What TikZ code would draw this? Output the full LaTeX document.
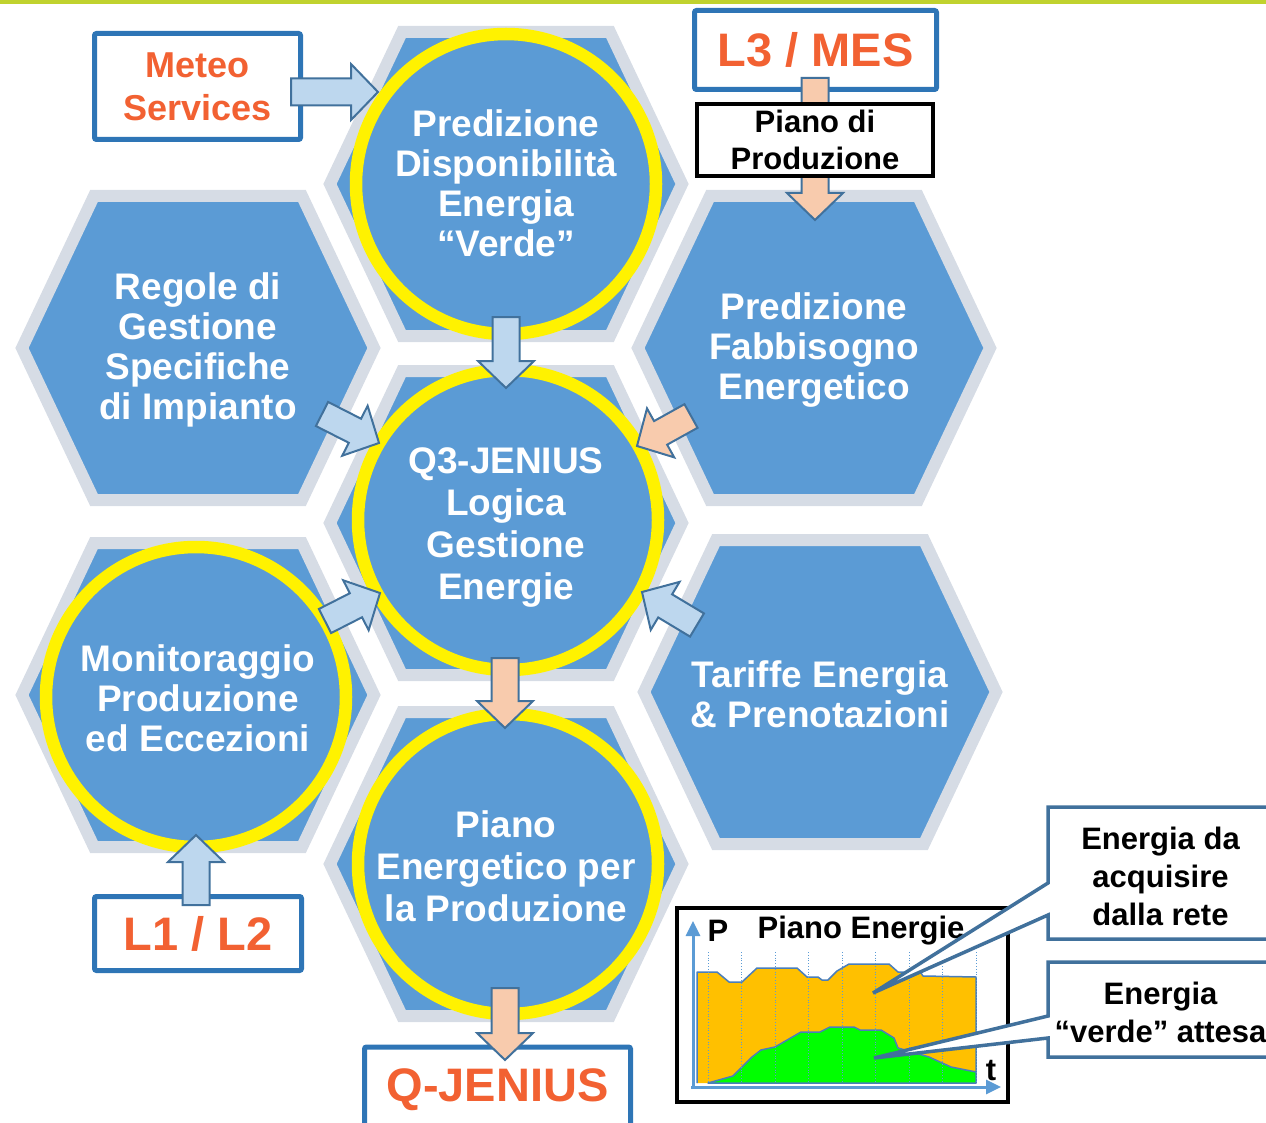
\documentclass[tikz,border=0pt]{standalone}
\usepackage{fontspec}
\setmainfont{Liberation Sans}
\usetikzlibrary{calc,arrows.meta}

\definecolor{hexblue}{HTML}{5B9BD5}
\definecolor{hexgray}{HTML}{D6DCE5}
\definecolor{arrowblue}{HTML}{BDD7EE}
\definecolor{arrowpeach}{HTML}{F8CBAD}
\definecolor{arrowline}{HTML}{41719C}
\definecolor{boxblue}{HTML}{2E75B6}
\definecolor{labelred}{HTML}{F26132}
\definecolor{topgreen}{HTML}{C0D22E}
\definecolor{chartorange}{HTML}{FFC000}
\definecolor{chartgreen}{HTML}{00FF00}
\definecolor{chartline}{HTML}{4A7EBB}

\tikzset{
  hexcell/.style={fill=hexblue, draw=hexgray, line width=12pt},
  ring/.style={draw=yellow, line width=12.5pt},
  hextext/.style={text=white, align=center, inner sep=0pt, font=\fontsize{37}{40}\selectfont\bfseries},
  hextextwide/.style={hextext, font=\fontsize{37}{42}\selectfont\bfseries},
  levelbox/.style={draw=boxblue, line width=5pt, fill=white, rounded corners=2pt, inner sep=0pt,
    text=labelred, align=center, font=\fontsize{47}{52}\selectfont\bfseries},
  planbox/.style={draw=black, line width=4pt, fill=white, inner sep=0pt,
    align=center, font=\fontsize{31}{37}\selectfont\bfseries},
  blockblue/.style={fill=arrowblue, draw=arrowline, line width=2pt},
  blockpeach/.style={fill=arrowpeach, draw=arrowline, line width=2pt},
  callout/.style={fill=white, draw=arrowline, line width=3.5pt},
  callouttext/.style={align=center, inner sep=0pt, font=\fontsize{31}{38}\selectfont\bfseries},
  charttext/.style={inner sep=0pt, font=\fontsize{31}{36}\selectfont\bfseries},
  gridline/.style={draw=hexblue, dotted, line width=0.8pt},
  chartaxis/.style={draw=hexblue, line width=3pt, -{Triangle[length=15pt,width=14pt]}},
  chartarea/.style={draw=chartline, line width=1.5pt, line join=round},
}

% block arrow: style, tail, tip
\newcommand\blockarrow[3]{%
  \coordinate (ah) at ($(#3)!27pt!(#2)$);
  \draw[#1] ($(#2)!13.5pt!90:(#3)$) -- ($(ah)!13.5pt!90:(#3)$) -- ($(ah)!28pt!90:(#3)$) -- (#3)
    -- ($(ah)!28pt!-90:(#3)$) -- ($(ah)!13.5pt!-90:(#3)$) -- ($(#2)!13.5pt!-90:(#3)$) -- cycle;}

\begin{document}
\begin{tikzpicture}[x=1pt,y=-1pt]
  \useasboundingbox (0,0) rectangle (1266,1123);
  \clip (0,0) rectangle (1266,1123);
  \fill[topgreen] (0,0) rectangle (1266,4);

  % honeycomb
  \foreach \cx/\cy in {506/184, 506/523, 506/864, 198/348, 198/695, 814/348, 820/692}
    \draw[hexcell] (\cx-176,\cy) -- (\cx-104,\cy-152) -- (\cx+104,\cy-152)
      -- (\cx+176,\cy) -- (\cx+104,\cy+152) -- (\cx-104,\cy+152) -- cycle;

  \foreach \cx/\cy in {506/184, 508/520, 508/864, 196/697}
    \draw[ring] (\cx,\cy) circle[radius=150pt];

  \node[hextext] (green) at (506,183) {Predizione\\Disponibilità\\Energia\\“Verde”};
  \node[hextext] (rules) at (198,350) {Regole di\\Gestione\\Specifiche\\di Impianto};
  \node[hextext] (demand) at (814,350) {Predizione\\Fabbisogno\\Energetico};
  \node[hextextwide] (logic) at (506,527) {Q3-JENIUS\\Logica\\Gestione\\Energie};
  \node[hextext] (monitor) at (198,698) {Monitoraggio\\Produzione\\ed Eccezioni};
  \node[hextext] (tariffs) at (820,694) {Tariffe Energia\\\& Prenotazioni};
  \node[hextextwide] (plan) at (506,866) {Piano\\Energetico per\\la Produzione};

  % outside systems
  \node[levelbox, minimum width=206pt, minimum height=106pt, font=\fontsize{36}{43}\selectfont\bfseries]
    (meteo) at (197.5,86.5) {Meteo\\Services};
  \node[levelbox, minimum width=242pt, minimum height=79pt] (mes) at (815.5,50) {L3 / MES};
  \node[levelbox, minimum width=207pt, minimum height=74pt] (field) at (198,933.5) {L1 / L2};
  \node[levelbox, minimum width=266pt, minimum height=86pt] (qjenius) at (497.5,1090) {Q-JENIUS};

  \coordinate (mesA) at (815,78);   \coordinate (mesB) at (815,220);
  \blockarrow{blockpeach}{mesA}{mesB}
  \node[planbox, minimum width=236pt, minimum height=72pt] (prod) at (815,140) {Piano di\\Produzione};

  % arrows
  \coordinate (meteoA) at (291,92);   \coordinate (meteoB) at (378,92);
  \coordinate (greenA) at (506,317);  \coordinate (greenB) at (506,388);
  \coordinate (rulesA) at (322,414);  \coordinate (rulesB) at (379,443);
  \coordinate (demandA) at (691,416); \coordinate (demandB) at (637,446);
  \coordinate (monA) at (325,621);    \coordinate (monB) at (380,593);
  \coordinate (tarA) at (697,625);    \coordinate (tarB) at (642,592);
  \coordinate (logicA) at (505,658);  \coordinate (logicB) at (505,728);
  \coordinate (planA) at (505,988);   \coordinate (planB) at (505,1060);
  \coordinate (fieldA) at (196,905);  \coordinate (fieldB) at (196,835);
  \blockarrow{blockblue}{meteoA}{meteoB}
  \blockarrow{blockblue}{greenA}{greenB}
  \blockarrow{blockblue}{rulesA}{rulesB}
  \blockarrow{blockpeach}{demandA}{demandB}
  \blockarrow{blockblue}{monA}{monB}
  \blockarrow{blockblue}{tarA}{tarB}
  \blockarrow{blockpeach}{logicA}{logicB}
  \blockarrow{blockpeach}{planA}{planB}
  \blockarrow{blockblue}{fieldA}{fieldB}

  % energy chart
  \draw[line width=4pt, fill=white] (677,908) rectangle (1008,1102);
  \fill[chartorange] (697,1083) -- (697,972) -- (717,972) -- (729,982) -- (742,982) -- (757,968)
    -- (797,968) -- (807,977) -- (818,977) -- (822,980) -- (828,980) -- (837,971) -- (849,964)
    -- (889,964) -- (898,972) -- (921,973) -- (923,976) -- (976,977) -- (976,1083) -- cycle;
  \draw[chartarea] (697,1083) -- (697,972) -- (717,972) -- (729,982) -- (742,982) -- (757,968)
    -- (797,968) -- (807,977) -- (818,977) -- (822,980) -- (828,980) -- (837,971) -- (849,964)
    -- (889,964) -- (898,972) -- (921,973) -- (923,976) -- (976,977) -- (976,1083);
  \filldraw[chartarea, fill=chartgreen] (708,1083) -- (733,1076) -- (752,1057) -- (761,1050)
    -- (775,1047) -- (801,1032) -- (820,1032) -- (830,1027) -- (854,1027) -- (860,1030)
    -- (881,1030) -- (894,1038) -- (898,1048) -- (929,1057) -- (951,1067) -- (976,1072)
    -- (976,1083) -- cycle;
  \foreach \gx in {708,741.5,775,808.5,842,875.5,909,942.5,976}
    \draw[gridline] (\gx,952) -- (\gx,1083);
  \draw[chartaxis] (693,1089) -- (693,921);
  \draw[chartaxis] (691,1087) -- (1001,1087);
  \node[charttext] (axisP) at (718,931) {P};
  \node[charttext] (charttitle) at (861,931) {Piano Energie};
  \node[charttext] (axisT) at (991,1071) {t};

  % callouts
  \draw[callout] (1048,807) -- (1300,807) -- (1300,939) -- (1048,939) -- (1048,915)
    -- (873,993) -- (1048,883) -- cycle;
  \node[callouttext] (buy) at (1160.5,876) {Energia da\\acquisire\\dalla rete};
  \draw[callout] (1048,962) -- (1300,962) -- (1300,1057) -- (1048,1057) -- (1048,1038)
    -- (874,1058) -- (1048,1016) -- cycle;
  \node[callouttext] (expected) at (1160.5,1012) {Energia\\“verde” attesa};
\end{tikzpicture}
\end{document}
